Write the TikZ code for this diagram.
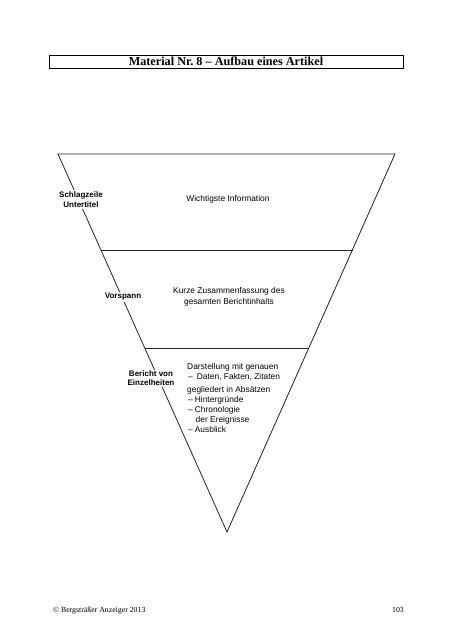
\documentclass[tikz,border=0pt]{standalone}
\usepackage{fontspec}
\setmainfont{Liberation Serif}
\newfontfamily\arialf{Liberation Sans}
\begin{document}
\begin{tikzpicture}[x=1pt,y=-1pt,
  edge/.style={draw=black!85, line width=0.8pt},
  lab/.style={font=\arialf\bfseries\fontsize{8}{9.5}\selectfont, fill=white, inner sep=1.5pt, align=center},
  txt/.style={font=\arialf\fontsize{8.4}{11}\selectfont, align=center, inner sep=0pt},
  ln/.style={font=\arialf\fontsize{8.4}{10}\selectfont, anchor=base west, inner sep=0pt},
  foot/.style={font=\fontsize{7.8}{9}\selectfont, inner sep=0pt}]
\useasboundingbox[fill=white] (0,0) rectangle (453,640);
% title
\node[draw, line width=0.8pt, minimum width=354pt, minimum height=13pt, inner sep=0pt,
  font=\bfseries\fontsize{12.2}{14}\selectfont] (title) at (226,61.5) {Material Nr.~8 -- Aufbau eines Artikel};
% triangle
\coordinate (tl) at (58,154);
\coordinate (tr) at (395,154);
\coordinate (ap) at (227,532);
\coordinate (l1) at (101,250);
\coordinate (r1) at (353,250);
\coordinate (l2) at (145,348);
\coordinate (r2) at (309,348);
\draw[edge] (tl) -- (tr) -- (ap) -- cycle;
\draw[edge] (l1) -- (r1);
\draw[edge] (l2) -- (r2);
% labels
\node[lab] (schlag) at (81,199.5) {Schlagzeile\\Untertitel};
\node[lab] (vor) at (123,297) {Vorspann};
\node[lab, font=\arialf\bfseries\fontsize{8}{9}\selectfont] (ber) at (151,378.5) {Bericht von\\Einzelheiten};
% texts
\node[txt] (wich) at (228,199) {Wichtigste Information};
\node[txt] (kurz) at (229,296.5) {Kurze Zusammenfassung des\\gesamten Berichtinhalts};
\node[ln] (d1) at (187,369) {Darstellung mit genauen};
\node[ln] (d2) at (188,379) {–\hspace{4pt}Daten, Fakten, Zitaten};
\node[ln] (d3) at (187,392.3) {gegliedert in Absätzen};
\node[ln] (d4) at (188,402) {–\hspace{2pt}Hintergründe};
\node[ln] (d5) at (188,412.3) {–\hspace{2pt}Chronologie};
\node[ln] (d6) at (195.5,422.3) {der Ereignisse};
\node[ln] (d7) at (188,432.3) {–\hspace{2pt}Ausblick};
% footer
\node[foot, anchor=base west] (copy) at (53,612) {© Bergsträßer Anzeiger 2013};
\node[foot, anchor=base east] (page) at (404,612) {103};
\end{tikzpicture}
\end{document}
